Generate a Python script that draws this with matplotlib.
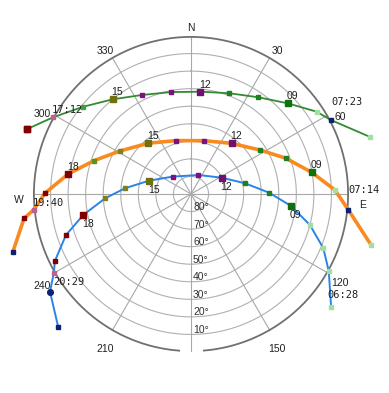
import numpy as np
import matplotlib
matplotlib.use('Agg')
import matplotlib.pyplot as plt

# ---------------- data (azimuth deg east of north, signed; altitude deg) ----------------
green_az = [72.3, 62.0, 56.8, 46.8, 34.8, 20.8, 5.0, -11.3, -26.5, -39.6, -51.0, -61.0, -68.5]
green_alt = [-17.0, 0.0, 4.4, 14.5, 22.9, 28.6, 31.5, 30.8, 27.0, 20.0, 11.0, 0.0, -10.6]
green_time = ['06', '07:23', '08', '09', '10', '11', '12', '13', '14', '15', '16', '17:12', '18']
green_mcol = ['#a0e0a0', '#102070', '#a0e0a0', '#107010', '#208020', '#208020', '#701070',
              '#801080', '#801080', '#707010', '#40a040', '#c06090', '#800000']

orange_az = [105.8, 95.7, 88.4, 79.8, 69.3, 57.5, 38.8, 14.0, -15.7, -40.1, -58.8, -71.0,
             -80.7, -89.7, -95.7, -98.3, -108.0]
orange_alt = [-16.6, 0.0, 8.0, 20.2, 32.3, 43.4, 53.0, 58.7, 58.4, 52.2, 42.7, 31.6,
              19.2, 6.8, 0.0, -6.1, -16.7]
orange_time = ['06', '07:14', '08', '09', '10', '11', '12', '13', '14', '15', '16', '17',
               '18', '19', '19:40', '20', '21']
orange_mcol = ['#a0e0a0', '#102070', '#a0e0a0', '#107010', '#208020', '#208020', '#701070',
               '#801080', '#801080', '#707010', '#808020', '#609020', '#800000', '#800000',
               '#c06090', '#800000', '#102070']

blue_az = [128.8, 119.3, 112.3, 104.6, 96.8, 89.0, 78.8, 62.0, 21.0, -46.6, -72.4, -85.0,
           -92.9, -101.0, -108.2, -116.2, -119.8, -124.7, -135.0]
blue_alt = [-12.4, 0.0, 8.5, 20.0, 32.6, 45.6, 58.6, 70.2, 78.4, 75.6, 64.9, 52.3,
            41.0, 27.5, 15.0, 3.6, 0.0, -7.7, -17.0]
blue_time = ['05', '06:28', '07', '08', '09', '10', '11', '12', '13', '14', '15', '16',
             '17', '18', '19', '20', '20:29', '21', '22']
blue_mcol = ['#a0e0a0', '#a0e0a0', '#a0e0a0', '#a0e0a0', '#107010', '#208020', '#208020',
             '#701070', '#801080', '#801080', '#707010', '#808020', '#808020', '#800000',
             '#800000', '#800000', '#c06090', '#102070', '#102070']

ring_alts = [10, 20, 30, 40, 50, 60, 70, 80]
dir_az = [0, 30, 60, 90, 120, 150, 210, 240, 270, 300, 330]
dir_labels = ['N', '30', '60', 'E', '120', '150', '210', '240', 'W', '300', '330']

big_hours = ['09', '12', '15', '18']
label_green = ['07:23', '09', '12', '15', '17:12']
label_orange = ['07:14', '09', '12', '15', '18', '19:40']
label_blue = ['06:28', '09', '12', '15', '18', '20:29']

# ---------------- figure ----------------
fig = plt.figure(figsize=(3.89, 3.93), dpi=100)
fig.patch.set_facecolor('white')
ax = fig.add_axes([33 / 389, 41 / 393, 316 / 389, 316 / 393], projection='polar')
ax.set_theta_zero_location('N')
ax.set_theta_direction(-1)
ax.set_rlim(0, 90)
ax.grid(False)
ax.set_xticks([])
ax.set_yticks([])
ax.spines['polar'].set_visible(False)
ax.patch.set_visible(False)

full = np.radians(np.linspace(0, 360, 721))
for a in ring_alts:
    ax.plot(full, np.full_like(full, 90 - a), color='#b0b0b0', lw=0.8, zorder=1)
for a in range(0, 360, 30):
    ax.plot([np.radians(a)] * 2, [0, 90], color='#a8a8a8', lw=0.8, zorder=1)
outer = np.radians(np.linspace(184, 535.6, 600))
ax.plot(outer, np.full_like(outer, 90), color='#707070', lw=2.6, zorder=2,
        solid_capstyle='butt')

dir_offsets = {'E': (0, -11), '60': (0, -9), '120': (0, -3)}
for a, t in zip(dir_az, dir_labels):
    ax.annotate(t, xy=(np.radians(a), 98), xytext=dir_offsets.get(t, (0, -6)),
                textcoords='offset pixels',
                ha='center', va='center', fontsize=7.5, color='#202020',
                family='Liberation Sans', annotation_clip=False)

for a in ring_alts:
    ax.annotate(f'{a}°', xy=(np.pi, 90 - a), xytext=(2, 4.5), textcoords='offset pixels',
                ha='left', va='center', fontsize=7.5, color='#303030',
                family='Liberation Sans', annotation_clip=False, zorder=4)

# label offsets that differ from the default (to keep texts from colliding)
special_offsets = {'07:23': (1, 13), '07:14': (0, 15), '06:28': (-1, -19)}


def draw_path(az, alt, times, mcol, color, lw, labels, below):
    th = np.radians(az)
    r = 90 - np.array(alt)
    ax.plot(th, r, color=color, lw=lw, clip_on=False, zorder=3, solid_capstyle='butt')
    for i, t in enumerate(times):
        if t in big_hours:
            ax.plot(th[i], r[i], marker='s', ms=4.3, color=mcol[i], mec=mcol[i],
                    clip_on=False, zorder=5)
        else:
            ax.plot(th[i], r[i], marker='s', ms=2.3, color=mcol[i], mec=mcol[i],
                    clip_on=False, zorder=5)
        if t in labels:
            mono = ':' in t
            off = special_offsets.get(t, (-1, -4 if below else 2))
            ax.annotate(t, xy=(th[i], r[i]), xytext=off,
                        textcoords='offset pixels', ha='left',
                        va='top' if below else 'bottom', fontsize=7.5, color='#202020',
                        family='DejaVu Sans Mono' if mono else 'Liberation Sans',
                        annotation_clip=False, zorder=6)


draw_path(green_az, green_alt, green_time, green_mcol, '#338a33', 1.3, label_green, False)
draw_path(orange_az, orange_alt, orange_time, orange_mcol, '#f98a20', 2.6, label_orange, False)
draw_path(blue_az, blue_alt, blue_time, blue_mcol, '#2a84e8', 1.4, label_blue, True)

# enlarge a couple of end markers as in reference
ax.plot(np.radians(green_az[-1]), 90 - green_alt[-1], marker='s', ms=4.8,
        color=green_mcol[-1], clip_on=False, zorder=5)
ax.plot(np.radians(blue_az[-2]), 90 - blue_alt[-2], marker='o', ms=4.0,
        color=blue_mcol[-2], clip_on=False, zorder=5)

fig.savefig('out.png', dpi=100, facecolor='white')
